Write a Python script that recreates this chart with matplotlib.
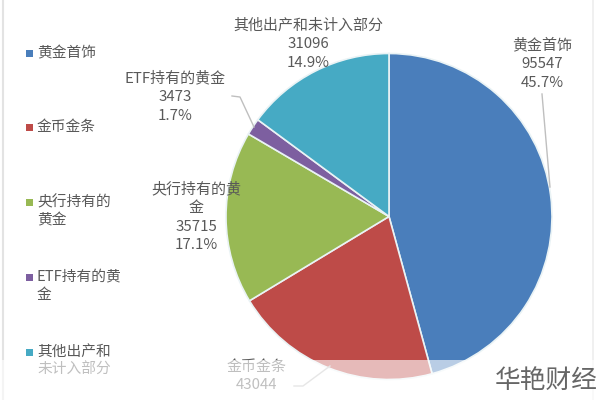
import matplotlib
matplotlib.use("Agg")
import matplotlib.pyplot as plt
from matplotlib.patches import Rectangle

plt.rcParams['font.family'] = ['Noto Sans CJK SC', 'DejaVu Sans']

legend_names = ['黄金首饰', '金币金条', '央行持有的\n黄金', 'ETF持有的黄\n金', '其他出产和\n未计入部分']
slice_names = ['黄金首饰', '金币金条', '央行持有的黄\n金', 'ETF持有的黄金', '其他出产和未计入部分']
values = [95547, 43044, 35715, 3473, 31096]
percents = ['45.7%', '20.6%', '17.1%', '1.7%', '14.9%']
colors = ['#4A7EBB', '#BE4B48', '#98B954', '#7D5FA0', '#46AAC4']

W, H = 597, 400
text_col = '#595959'

fig = plt.figure(figsize=(W / 100, H / 100), dpi=100)

# pie axes placed in pixels
cx, cy, r = 389, 216.5, 163
ax = fig.add_axes([(cx - r) / W, 1 - (cy + r) / H, 2 * r / W, 2 * r / H])
ax.pie(values, colors=colors, startangle=90, counterclock=False, radius=1,
       wedgeprops=dict(edgecolor='#EAF3F5', linewidth=1.2))
ax.set_xlim(-1, 1)
ax.set_ylim(-1, 1)

# overlay in pixel coords, y down
ov = fig.add_axes([0, 0, 1, 1], facecolor='none')
ov.set_xlim(0, W)
ov.set_ylim(H, 0)
ov.axis('off')

# frame edges
ov.plot([3, 3], [0, 400], color='#E3E3E3', lw=1.5)
ov.plot([593, 593], [0, 400], color='#EDEDED', lw=1.2)

# legend
legend_y = [53, 127, 202, 277, 352]
for name, c, y in zip(legend_names, colors, legend_y):
    ov.add_patch(Rectangle((25.5, y - 3.5), 7, 7, color=c, lw=0))
    for i, line in enumerate(name.split('\n')):
        ov.text(37, y + i * 18, line, fontsize=10.6, color=text_col, va='center', ha='left')

# slice labels
label_pos = [(542, 64), (257, 376), (196, 217), (175, 97), (308, 44)]
for i, (name, val, pct) in enumerate(zip(slice_names, values, percents)):
    if i == 1:
        # percent line of this label is cropped out of the picture
        txt = name + '\n' + str(val)
    else:
        txt = name + '\n' + str(val) + '\n' + pct
    ov.text(label_pos[i][0], label_pos[i][1], txt, fontsize=10.8, color=text_col,
            ha='center', va='center', linespacing=1.42)

# leader lines
ov.plot([542, 550], [94, 187], color='#BFBFBF', lw=1)
ov.plot([232, 240, 254], [96, 97, 127], color='#BFBFBF', lw=1)
ov.plot([294, 303, 330], [386, 386, 366], color='#BFBFBF', lw=1)

# washed out strip along the bottom
ov.add_patch(Rectangle((0, 360), W, 40, color='white', alpha=0.62, lw=0, zorder=5))

ov.text(495, 381, '华艳财经', fontsize=18.5, color='#666666', ha='left', va='center', zorder=6)

fig.savefig('out.png', dpi=100)
